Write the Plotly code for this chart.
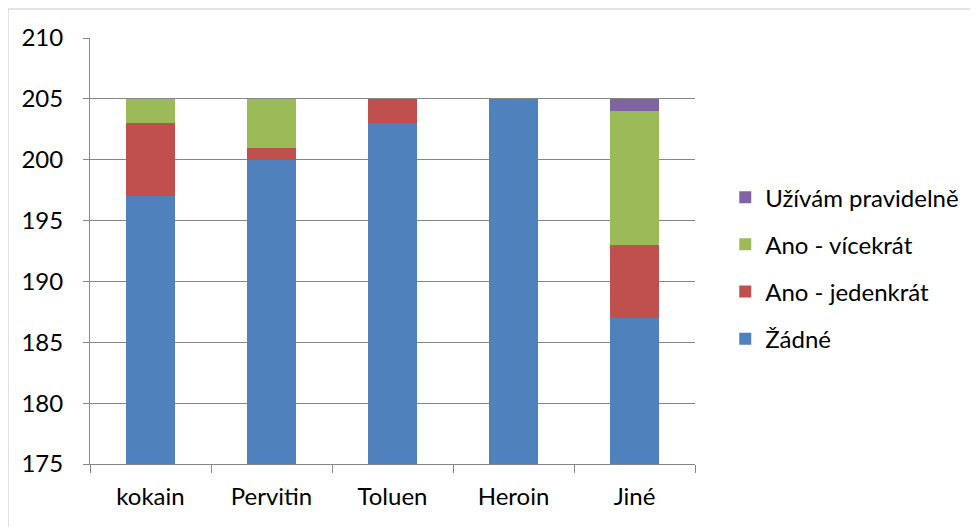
import plotly.graph_objects as go

categories = ["kokain", "Pervitin", "Toluen", "Heroin", "Jiné"]
series_names = ["Žádné", "Ano - jedenkrát", "Ano - vícekrát", "Užívám pravidelně"]
zadne = [197, 200, 203, 205, 187]
jedenkrat = [6, 1, 2, 0, 6]
vicekrat = [2, 4, 0, 0, 11]
pravidelne = [0, 0, 0, 0, 1]
colors = ["#4F81BD", "#C0504D", "#9BBB59", "#8064A2"]

FONT = "Lato, Calibri, Carlito, sans-serif"
GRID = "#868686"

fig = go.Figure()
for i, (name, vals, col) in enumerate(zip(series_names, [zadne, jedenkrat, vicekrat, pravidelne], colors)):
    fig.add_trace(go.Bar(
        x=categories, y=vals, name=name,
        marker={"color": col, "line": {"width": 0}},
        legendgroup=name, legendrank=1000 - i,
    ))

# page body adds ~8px offset, margins compensate
fig.update_layout(
    barmode="stack",
    bargap=0.6,
    width=978, height=527,
    margin={"l": 82, "r": 291, "t": 30, "b": 71},
    paper_bgcolor="white",
    plot_bgcolor="white",
    font={"family": FONT, "size": 24, "color": "black"},
    legend={
        "x": 1.05, "y": 0.46, "xanchor": "left", "yanchor": "middle",
        "traceorder": "grouped", "tracegroupgap": 13,
        "font": {"size": 24},
    },
    xaxis={
        "showline": True, "linecolor": GRID, "linewidth": 1,
        "ticks": "outside", "tickson": "boundaries", "ticklen": 8,
        "tickcolor": GRID, "showgrid": False,
        "ticklabelstandoff": 11,
    },
    yaxis={
        "range": [175, 210], "dtick": 5, "tick0": 175,
        "showline": True, "linecolor": GRID, "linewidth": 1,
        "ticks": "outside", "ticklen": 6, "tickcolor": GRID,
        "showgrid": True, "gridcolor": GRID, "gridwidth": 1,
        "zeroline": False, "ticklabelstandoff": 15,
    },
    shapes=[{
        "type": "rect", "xref": "paper", "yref": "paper",
        "x0": -0.1355, "x1": 1.6, "y0": -0.3, "y1": 1.068,
        "line": {"color": "#C8C8C8", "width": 1},
    }],
)

fig.write_html("out.html")
